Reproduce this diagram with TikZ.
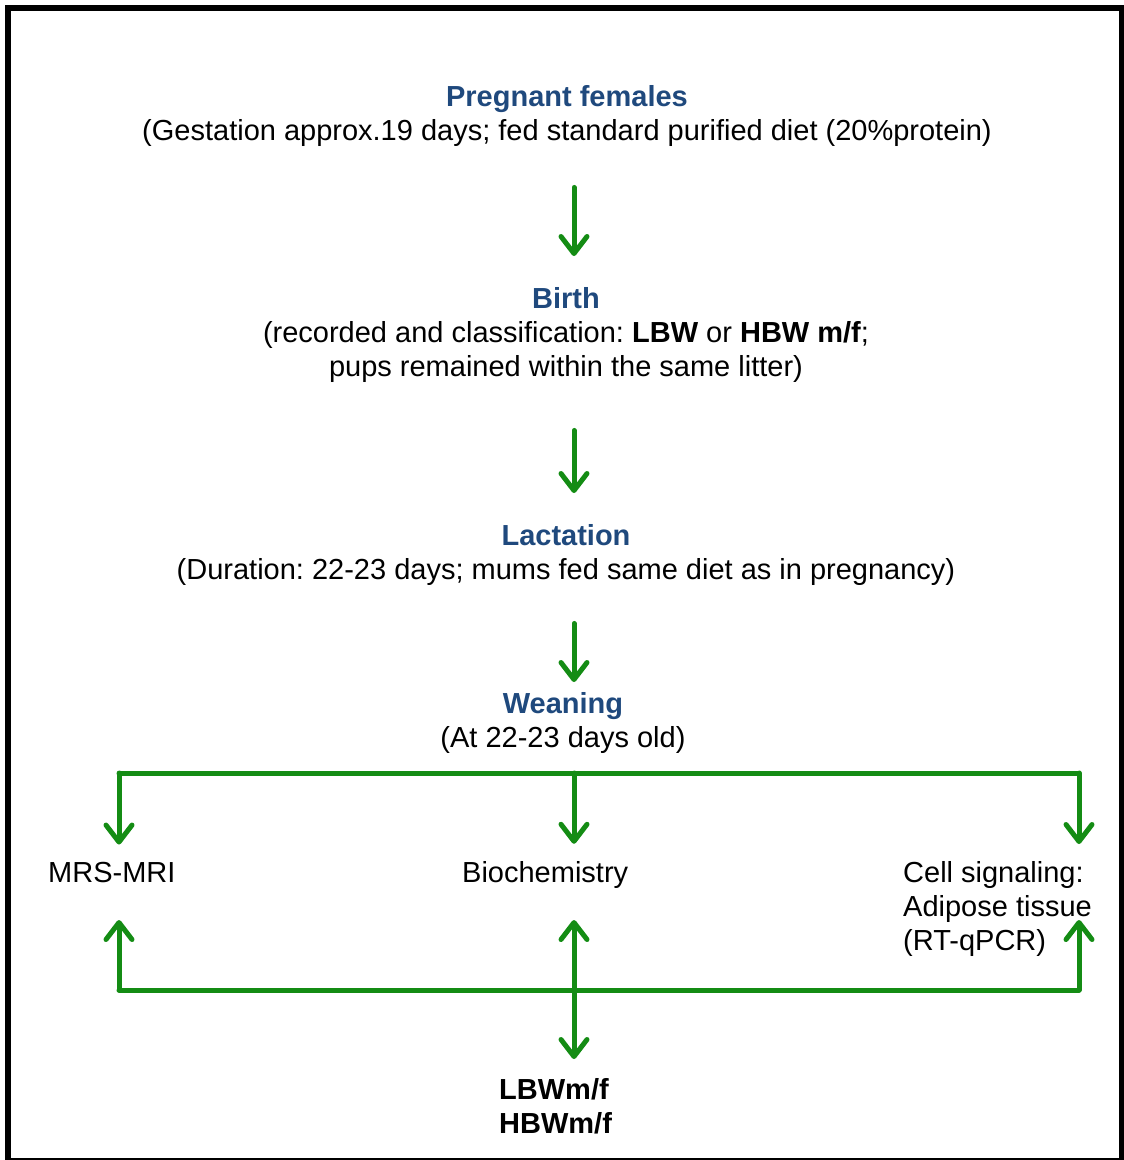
\documentclass[tikz,border=0pt]{standalone}
\usepackage{fontspec}
\setmainfont{Liberation Sans}
\usetikzlibrary{positioning, arrows.meta, calc}
\definecolor{flowgreen}{RGB}{20,140,20}
\definecolor{titleblue}{RGB}{31,73,125}
\frenchspacing

\begin{document}
\begin{tikzpicture}[x=1pt, y=-1pt,
    every node/.style={inner sep=0pt, font=\fontsize{29}{34}\selectfont},
    stage/.style={anchor=north, align=center},
    flow/.style={draw=flowgreen, line width=5pt, line cap=round, line join=round,
        -{Straight Barb[length=17pt,width=26pt,round]}},
    bar/.style={draw=flowgreen, line width=5pt, line cap=round, line join=round}]
    % Page and frame
    \useasboundingbox (0,0) rectangle (1124,1160);
    \clip (0,0) rectangle (1124,1160);
    \draw[line width=6pt] (8,8) rectangle (1122,1161);

    % Stages
    \node[stage] (preg) at (567,85) {\textcolor{titleblue}{\bfseries Pregnant females}\\
        (Gestation approx.19 days; fed standard purified diet (20\%protein)};
    \node[stage] (birth) at (566,287) {\textcolor{titleblue}{\bfseries Birth}\\
        (recorded and classification: \textbf{LBW} or \textbf{HBW m/f};\\
        pups remained within the same litter)};
    \node[stage] (lact) at (566,524) {\textcolor{titleblue}{\bfseries Lactation}\\
        (Duration: 22-23 days; mums fed same diet as in pregnancy)};
    \node[stage] (wean) at (563,692) {\textcolor{titleblue}{\bfseries Weaning}\\
        (At 22-23 days old)};

    % Analyses
    \node[anchor=base west] (mrs) at (48,882) {MRS-MRI};
    \node[anchor=base west] (bio) at (462,882) {Biochemistry};
    \node[anchor=north west, align=left] (cell) at (903,861) {Cell signaling:\\Adipose tissue\\(RT-qPCR)};
    \node[anchor=north west, align=left, font=\fontsize{29}{34}\selectfont\bfseries] (out) at (499,1078) {LBWm/f\\HBWm/f};

    % Branch points
    \coordinate (spine) at (574,0);
    \coordinate (tl) at (119,773);
    \coordinate (tm) at (574,773);
    \coordinate (tr) at (1079,773);
    \coordinate (bl) at (119,990);
    \coordinate (bm) at (574,990);
    \coordinate (br) at (1079,990);

    % Main line
    \draw[flow, shorten <=41pt, shorten >=31pt] (preg.south -| spine) -- (birth.north -| spine);
    \draw[flow, shorten <=48pt, shorten >=31pt] (birth.south -| spine) -- (lact.north -| spine);
    \draw[flow, shorten <=38pt, shorten >=10pt] (lact.south -| spine) -- (wean.north -| spine);

    % Split after weaning
    \draw[bar] (tl) -- (tr);
    \draw[flow, shorten >=17pt] (tl) -- (tl |- mrs.north);
    \draw[flow, shorten >=17pt] (tm) -- (tm |- bio.north);
    \draw[flow, shorten >=17pt] (tr) -- (tr |- cell.north);

    % Join towards groups
    \draw[bar] (bl) -- (br);
    \draw[flow] (bl) -- ++(0,-70);
    \draw[flow] (br) -- ++(0,-70);
    \draw[flow] (bm) -- ++(0,-70);
    \draw[flow, shorten >=19pt] (bm) -- (out.north -| bm);
\end{tikzpicture}
\end{document}
